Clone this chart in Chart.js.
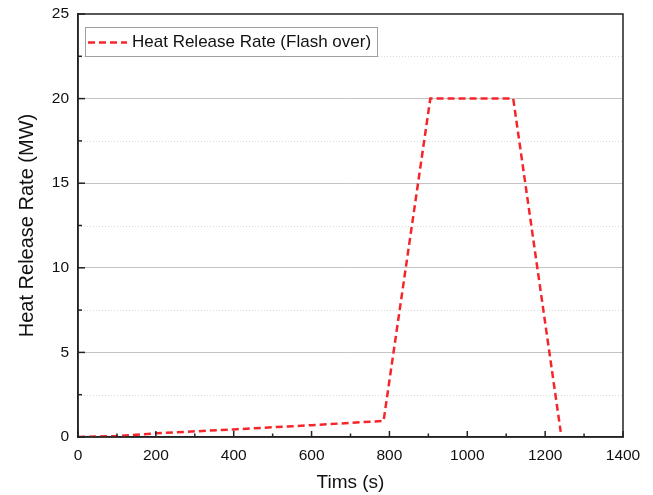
<!DOCTYPE html>
<html>
<head>
<meta charset="utf-8">
<script src="https://cdn.jsdelivr.net/npm/chart.js@4/dist/chart.umd.min.js"></script>
<style>
  html, body { margin: 0; padding: 0; background: #fff; }
  #wrap { width: 653px; height: 495px; position: relative; }
</style>
</head>
<body>
<div id="wrap"><canvas id="chartHrr"></canvas></div>
<script>
// data
const timeS = [0, 100, 200, 400, 600, 785, 905, 1118, 1240];
const hrrMW = [0, 0.05, 0.22, 0.45, 0.7, 0.95, 20, 20, 0.3];
const seriesLabel = "Heat Release Rate (Flash over)";
const xTitle = "Tims (s)";
const yTitle = "Heat Release Rate (MW)";

const lineRed = "#f5262b";
const dash = [7, 4];
const fontFam = "'Liberation Sans', Arial, sans-serif";

// frame, inward ticks, dotted minor grid and in-plot legend
const framePlugin = {
  id: "frame",
  beforeDatasetsDraw(chart) {
    const { ctx, chartArea: a, scales } = chart;
    ctx.save();
    ctx.strokeStyle = "#d9d9d9";
    ctx.lineWidth = 1;
    ctx.setLineDash([1, 2]);
    scales.y.ticks.forEach(t => {
      if (t.value % 5 !== 0) {
        const y = Math.round(scales.y.getPixelForValue(t.value)) + 0.5;
        ctx.beginPath();
        ctx.moveTo(a.left, y);
        ctx.lineTo(a.right, y);
        ctx.stroke();
      }
    });
    ctx.restore();
  },
  afterDraw(chart) {
    const { ctx, chartArea: a, scales } = chart;
    ctx.save();
    ctx.strokeStyle = "#222";
    ctx.lineWidth = 1.5;
    ctx.strokeRect(a.left, a.top, a.right - a.left, a.bottom - a.top);

    scales.x.ticks.forEach(t => {
      const x = scales.x.getPixelForValue(t.value);
      const len = t.value % 200 === 0 ? 6 : 3.5;
      ctx.beginPath();
      ctx.moveTo(x, a.bottom);
      ctx.lineTo(x, a.bottom - len);
      ctx.stroke();
    });
    scales.y.ticks.forEach(t => {
      const y = scales.y.getPixelForValue(t.value);
      const len = t.value % 5 === 0 ? 7 : 4;
      ctx.beginPath();
      ctx.moveTo(a.left, y);
      ctx.lineTo(a.left + len, y);
      ctx.stroke();
    });

    // legend box
    const bx = a.left + 7, by = a.top + 13, bw = 292, bh = 29;
    ctx.fillStyle = "#fff";
    ctx.fillRect(bx, by, bw, bh);
    ctx.strokeStyle = "#a0a0a0";
    ctx.lineWidth = 1;
    ctx.strokeRect(bx + 0.5, by + 0.5, bw, bh);
    ctx.strokeStyle = lineRed;
    ctx.lineWidth = 2.5;
    ctx.setLineDash(dash);
    ctx.beginPath();
    ctx.moveTo(bx + 3, by + bh / 2 + 1);
    ctx.lineTo(bx + 42, by + bh / 2 + 1);
    ctx.stroke();
    ctx.setLineDash([]);
    ctx.fillStyle = "#111";
    ctx.font = "17px " + fontFam;
    ctx.textBaseline = "middle";
    ctx.fillText(seriesLabel, bx + 47, by + bh / 2 + 1);
    ctx.restore();
  }
};

const hrrCtx = document.getElementById("chartHrr").getContext("2d");
const chartHrr = new Chart(hrrCtx, {
  type: "line",
  data: {
    datasets: [
      {
        label: seriesLabel,
        data: timeS.map((t, i) => ({ x: t, y: hrrMW[i] })),
        borderColor: lineRed,
        borderWidth: 2.5,
        borderDash: dash,
        pointRadius: 0,
        tension: 0,
        fill: false,
      },
    ],
  },
  options: {
    responsive: true,
    maintainAspectRatio: false,
    animation: false,
    layout: { padding: { top: 14, right: 30, left: 0, bottom: 0 } },
    scales: {
      x: {
        type: "linear",
        min: 0,
        max: 1400,
        afterFit(scale) {
          scale.height = 58;
          scale.paddingLeft = 0;
          scale.paddingRight = 0;
        },
        ticks: {
          stepSize: 100,
          autoSkip: false,
          maxRotation: 0,
          padding: 9,
          color: "#111",
          font: { family: fontFam, size: 15.5 },
          callback: v => (v % 200 === 0 ? String(v) : ""),
        },
        grid: { display: false, drawTicks: false },
        border: { display: true, color: "#222", width: 1.5 },
        title: {
          display: true,
          text: xTitle,
          color: "#111",
          font: { family: fontFam, size: 19 },
          padding: { top: 4, bottom: 1 },
        },
      },
      y: {
        min: 0,
        max: 25,
        afterFit(scale) {
          scale.width = 78;
          scale.paddingTop = 0;
          scale.paddingBottom = 0;
        },
        ticks: {
          stepSize: 2.5,
          autoSkip: false,
          padding: 9,
          color: "#111",
          font: { family: fontFam, size: 15.5 },
          callback: v => (v % 5 === 0 ? String(v) : ""),
        },
        grid: {
          drawTicks: false,
          lineWidth: 1,
          color: c => (c.tick && c.tick.value % 5 === 0 && c.tick.value !== 0 && c.tick.value !== 25 ? "#c4c4c4" : "rgba(0,0,0,0)"),
        },
        border: { display: true, color: "#222", width: 1.5 },
        title: {
          display: true,
          text: yTitle,
          color: "#111",
          font: { family: fontFam, size: 20 },
          padding: { top: 15, bottom: 4 },
        },
      },
    },
    plugins: {
      legend: { display: false },
      tooltip: { enabled: false },
    },
  },
  plugins: [framePlugin],
});
</script>
</body>
</html>
